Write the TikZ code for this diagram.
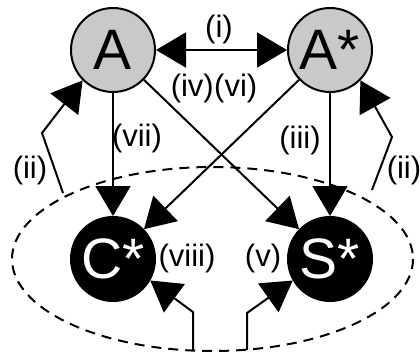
\documentclass[tikz,border=0pt]{standalone}
\usepackage{fontspec}
\setmainfont{Liberation Sans}
\usetikzlibrary{arrows.meta}
\definecolor{cgray}{RGB}{200,201,203}
\begin{document}
\begin{tikzpicture}[x=1pt,y=-1pt,
 big/.style={circle,minimum size=84pt,inner sep=0pt,line width=2pt,font=\fontsize{57}{57}\selectfont},
 grayc/.style={big,draw=black,fill=cgray},
 blackc/.style={big,draw=black,fill=black,text=white},
 lab/.style={font=\fontsize{31}{31}\selectfont,inner sep=0pt},
 conn/.style={line width=2pt,-{Triangle[length=30pt,width=35pt]}},
 both/.style={line width=2pt,{Triangle[length=30pt,width=35pt]}-{Triangle[length=30pt,width=35pt]}},
 ring/.style={line width=2pt,dash pattern=on 10pt off 7pt},
]
\useasboundingbox (0,0) rectangle (420,356);
\draw[ring] (212.5,259) ellipse [x radius=200.5, y radius=92];
\node[grayc] (A) at (113,50) {A};
\node[grayc] (As) at (330,50) {A*};
\node[blackc] (Cs) at (113,259) {C*};
\node[blackc] (Ss) at (330,259) {S*};
\draw[both] (A) -- (As);
\draw[conn] (A) -- (Cs);
\draw[conn] (As) -- (Ss);
\draw[conn] (A) -- (Ss);
\draw[conn] (As) -- (Cs);
\coordinate (l0) at (63,193);
\coordinate (l1) at (42,133);
\draw[conn] (l0) -- (l1) -- (A.225);
\coordinate (r0) at (372,190);
\coordinate (r1) at (392,137);
\draw[conn] (r0) -- (r1) -- (As.315);
\coordinate (b0) at (193,350);
\coordinate (b1) at (193,312);
\draw[conn] (b0) -- (b1) -- (Cs.-30);
\coordinate (c0) at (247,350);
\coordinate (c1) at (247,313);
\draw[conn] (c0) -- (c1) -- (Ss.210);
\node[lab] (li) at (219,29) {(i)};
\node[lab,anchor=east] (liv) at (214,88) {(iv)};
\node[lab,anchor=west] (lvi) at (214,88) {(vi)};
\node[lab] (lvii) at (137,138) {(vii)};
\node[lab] (liii) at (300,140) {(iii)};
\node[lab] (lii) at (30,170) {(ii)};
\node[lab] (lii2) at (404,170) {(ii)};
\node[lab] (lviii) at (187,258) {(viii)};
\node[lab] (lv) at (263,258) {(v)};
\end{tikzpicture}
\end{document}
